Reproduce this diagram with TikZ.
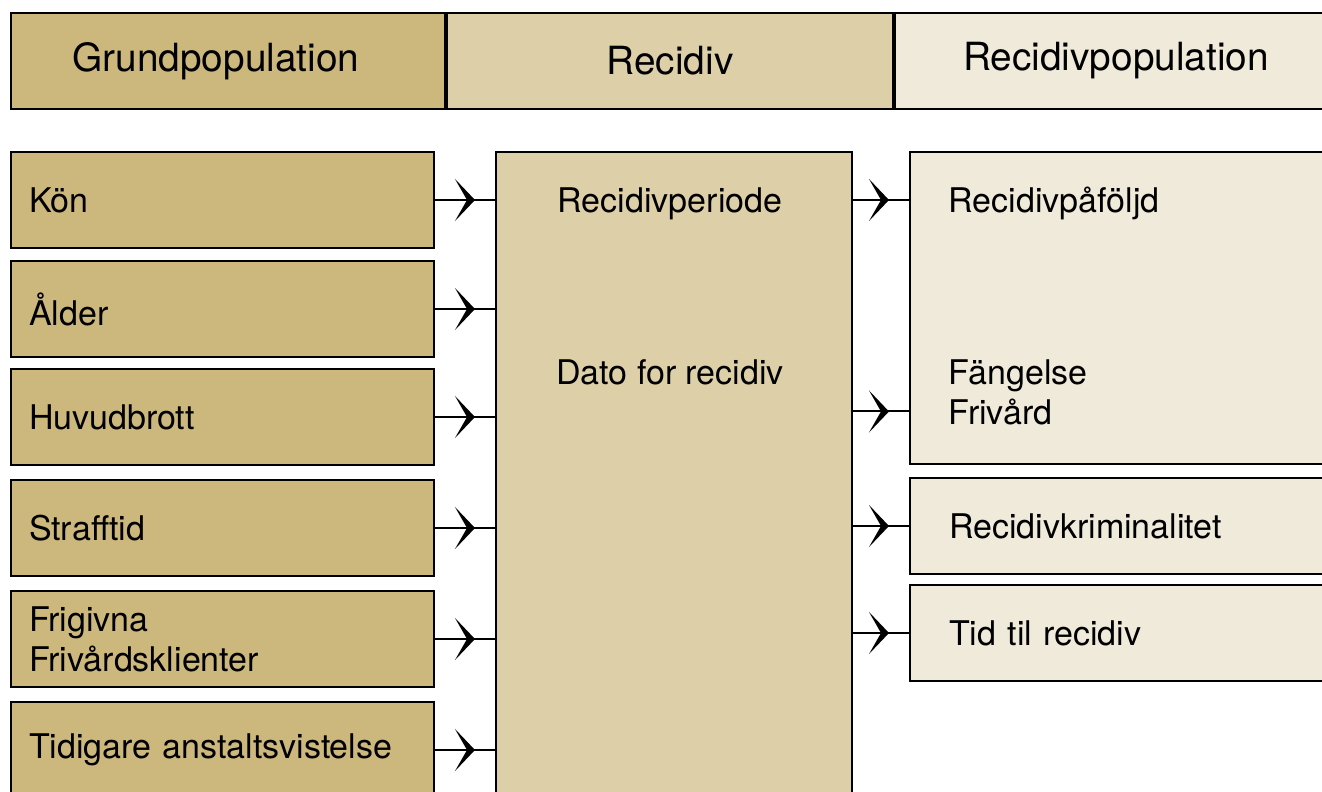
\documentclass[tikz,border=0pt]{standalone}
\usepackage{xcolor}
\usepackage{fontspec}
\setmainfont{TeX Gyre Heros}
\usepackage{tikz}
\usetikzlibrary{arrows.meta, positioning, decorations.markings}

\definecolor{grund}{HTML}{CCB77C}
\definecolor{recid}{HTML}{DDD0A8}
\definecolor{recpop}{HTML}{F0EADB}

\tikzset{
  box/.style={draw=black, line width=1pt, rectangle, anchor=north west, inner sep=0pt},
  head/.style={box, minimum height=48pt, font=\fontsize{19.4}{23}\selectfont},
  leftbox/.style={box, fill=grund, minimum width=211.5pt, minimum height=48pt,
    align=left, text width=193.5pt, inner xsep=9pt},
  rightbox/.style={box, fill=recpop, minimum width=215pt, minimum height=48pt},
  txt/.style={font=\fontsize{17}{20}\selectfont},
  lbl/.style={inner sep=0pt, anchor=base west},
  link/.style={line width=1pt, postaction={decorate}, decoration={markings,
    mark=at position -10pt with {\arrow{Stealth[length=10pt, width=21pt, inset=6pt]}}}}
}

\begin{document}
\begin{tikzpicture}[x=0.5pt, y=-0.5pt, every node/.append style={txt}]
\useasboundingbox (0,0) rectangle (1322,792);
\clip (0,0) rectangle (1322,792);
% \draw[help lines, red] (0,0) grid[step=100] (1322,792);

% header row
\node[head, fill=grund, minimum width=217pt] (hgrund) at (10,12) {Grundpopulation\hspace*{12pt}};
\node[head, fill=recid, minimum width=223pt] (hrecid) at (446,12) {Recidiv};
\node[head, fill=recpop, minimum width=221pt] (hpop) at (894,12) {Recidivpopulation};

% grundpopulation
\node[leftbox] (kon) at (10,151) {Kön};
\node[leftbox] (alder) at (10,260) {Ålder};
\node[leftbox] (brott) at (10,368) {Huvudbrott};
\node[leftbox] (straff) at (10,479) {Strafftid};
\node[leftbox] (frigivna) at (10,590) {Frigivna\\Frivårdsklienter};
\node[leftbox] (tidigare) at (10,701) {Tidigare anstaltsvistelse};

% recidiv
\node[box, fill=recid, minimum width=178pt, minimum height=330pt] (recbox) at (495,151) {};
\node[anchor=base] (period) at (670,212) {Recidivperiode};
\node[anchor=base] (dato) at (670,384) {Dato for recidiv};

% recidivpopulation
\node[rightbox, minimum height=156pt] (pafbox) at (909,151) {};
\node[lbl] (pafoljd) at (948,212) {Recidivpåföljd};
\node[lbl] (fangelse) at (948,384) {Fängelse};
\node[lbl] (frivard) at (948,424) {Frivård};
\node[rightbox, align=left, text width=195.5pt, inner xsep=19.5pt] (krim) at (909,477) {Recidivkriminalitet};
\node[rightbox, align=left, text width=195.5pt, inner xsep=19.5pt] (tid) at (909,584) {Tid til recidiv};

% links
\foreach \n in {kon, alder, brott, straff, frigivna, tidigare}
  \draw[link] (\n.east) -- (\n.east -| recbox.west);
\draw[link] (recbox.east |- pafbox.north west) ++(0,49) coordinate (c1) (recbox.east |- c1) -- (pafbox.west |- c1);
\draw[link] (recbox.east |- frivard.west) -- (pafbox.west |- frivard.west);
\draw[link] (recbox.east |- krim.west) -- (krim.west);
\draw[link] (recbox.east |- tid.west) -- (tid.west);
\end{tikzpicture}
\end{document}
